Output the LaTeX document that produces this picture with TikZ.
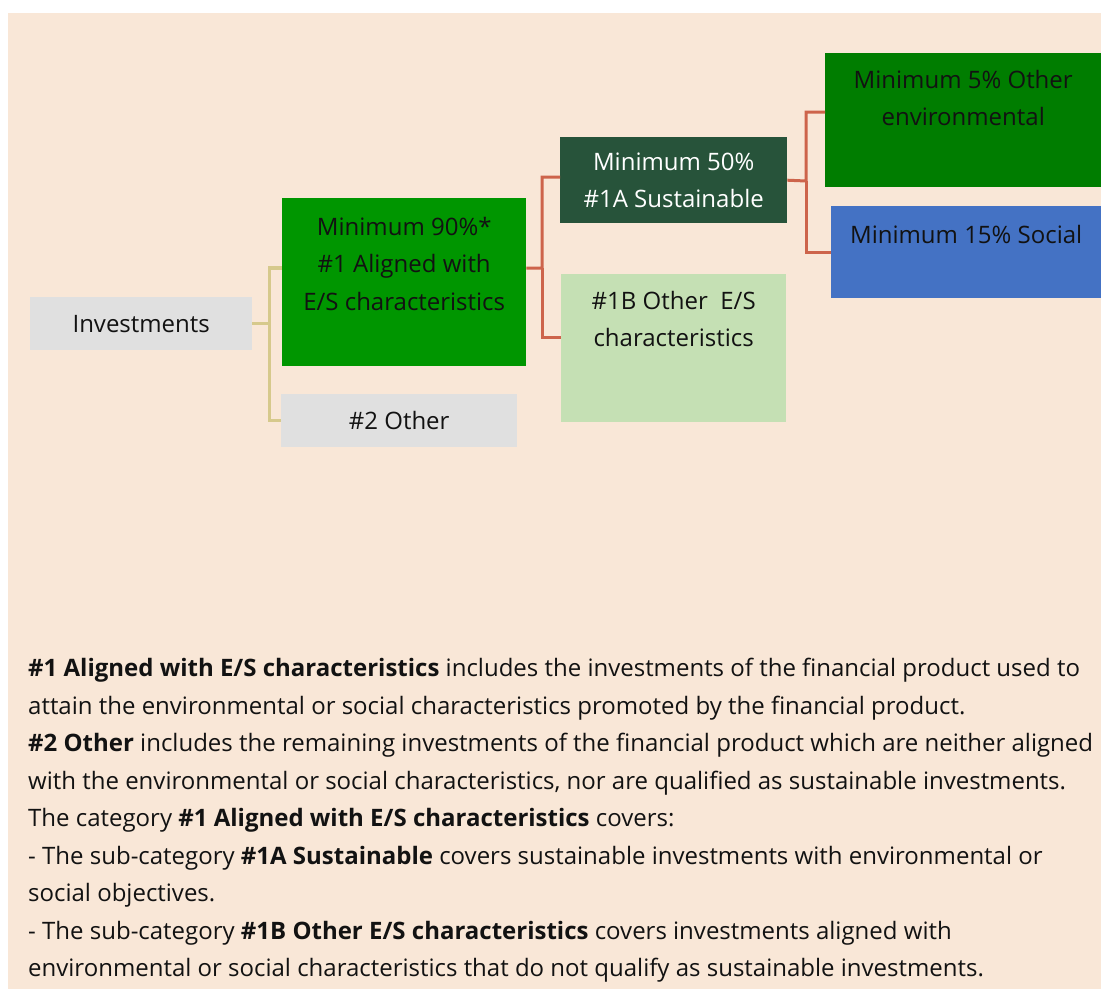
\documentclass[tikz,border=0pt]{standalone}
\usepackage{fontspec}
\setmainfont{Open Sans}
\usepackage{xcolor}
\usetikzlibrary{positioning}
\definecolor{peach}{RGB}{249,231,215}
\definecolor{boxgray}{RGB}{224,224,224}
\definecolor{mgreen}{RGB}{0,150,0}
\definecolor{egreen}{RGB}{0,125,0}
\definecolor{dgreen}{RGB}{39,83,58}
\definecolor{lgreen}{RGB}{197,224,180}
\definecolor{sblue}{RGB}{68,114,196}
\definecolor{tanline}{RGB}{214,201,140}
\definecolor{redline}{RGB}{205,100,75}
\definecolor{ink}{RGB}{18,18,18}

\begin{document}
\begin{tikzpicture}[x=1pt,y=-1pt,
font=\fontsize{24}{37.5}\selectfont,text=ink,
box/.style={rectangle,inner sep=0pt,anchor=north west,align=center},
lbl/.style={align=center,inner sep=0pt,anchor=north},
tree/.style={line width=3.5pt,draw=tanline},
sub/.style={line width=3pt,draw=redline}]

\useasboundingbox(0,0)rectangle(1101,989);
\fill[white](0,0)rectangle(1101,989);
\fill[peach](8,13)rectangle(1101,989);

% left column
\node[box,fill=boxgray,minimum width=222,minimum height=53] (inv) at(30,297){\raisebox{-2pt}{Investments}};
\node[box,fill=mgreen,minimum width=244,minimum height=168] (aligned) at(282,198){};
\node[lbl,below=19pt of aligned.north]{Minimum 90\%*\\\#1 Aligned with\\E/S characteristics};
\node[box,fill=boxgray,minimum width=236,minimum height=53] (other) at(281,394){\raisebox{-1pt}{\#2 Other}};

% middle column
\node[box,fill=dgreen,text=white,minimum width=227,minimum height=86] (sust) at(560,137){Minimum 50\%\\\#1A Sustainable};
\node[box,fill=lgreen,minimum width=225,minimum height=148] (oneb) at(561,274){};
\node[lbl,below=17pt of oneb.north]{\#1B Other~ E/S\\characteristics};

% right column
\node[box,fill=egreen,minimum width=276,minimum height=134] (env) at(825,53){};
\node[lbl,below=17pt of env.north]{Minimum 5\% Other\\environmental};
\node[box,fill=sblue,minimum width=270,minimum height=92] (social) at(831,206){};
\node[lbl,below=19pt of social.north]{Minimum 15\% Social};

% connectors
\draw[tree](inv.east)--++(17,0)|-([yshift=14pt]aligned.west);
\draw[tree](inv.east)++(17,0)|-(other.west);
\draw[sub]([yshift=14pt]aligned.east)--(542,268)|-([yshift=3pt]sust.west);
\draw[sub](542,268)|-([yshift=11pt]oneb.west);
\draw[sub](sust.east)--(806,181)|-([yshift=8pt]env.west);
\draw[sub](806,181)|-(social.west);

% explanation
\node[anchor=north west,align=left,inner sep=0pt] (notes) at(28,658){%
\textbf{\#1 Aligned with E/S characteristics} includes the investments of the financial product used to\\
attain the environmental or social characteristics promoted by the financial product.\\
\textbf{\#2 Other} includes the remaining investments of the financial product which are neither aligned\\
with the environmental or social characteristics, nor are qualified as sustainable investments.\\
The category \textbf{\#1 Aligned with E/S characteristics} covers:\\
- The sub-category \textbf{\#1A Sustainable} covers sustainable investments with environmental or\\
social objectives.\\
- The sub-category \textbf{\#1B Other E/S characteristics} covers investments aligned with\\
environmental or social characteristics that do not qualify as sustainable investments.};
\end{tikzpicture}
\end{document}
